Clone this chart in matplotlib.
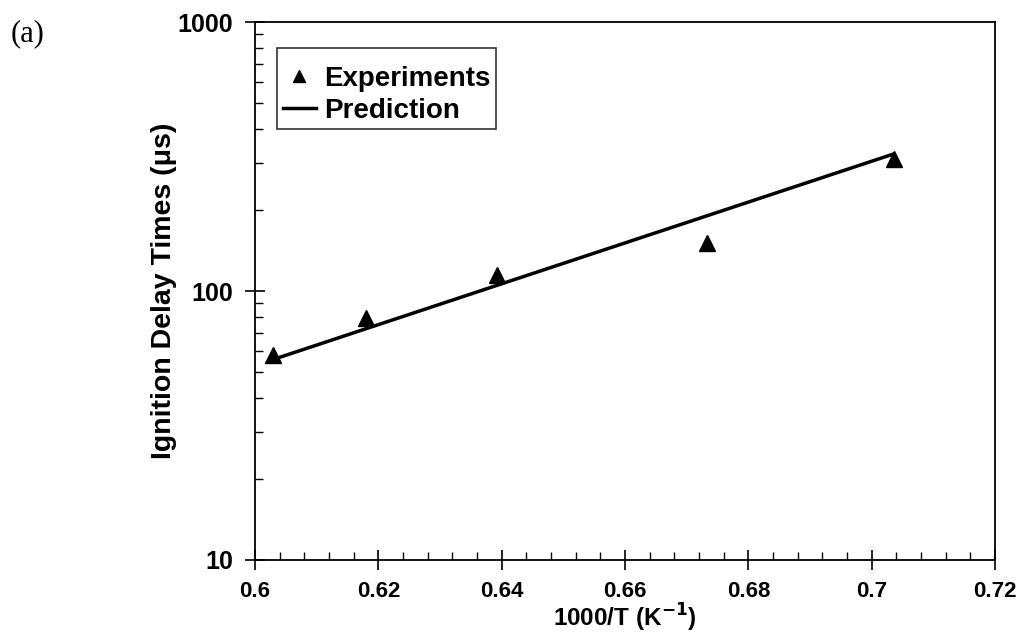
import matplotlib.pyplot as plt
from matplotlib.ticker import MultipleLocator, LogLocator, NullFormatter, FixedFormatter, FixedLocator

plt.rcParams['font.family'] = ['Liberation Sans', 'DejaVu Sans']

# experimental ignition delay data
exp_x = [0.6029, 0.6180, 0.6392, 0.6733, 0.7036]
exp_y = [57.8, 79.4, 114.7, 150.8, 310]

# model prediction (straight line in log space)
pred_x = [0.6037, 0.7035]
pred_y = [56.4, 323]

x_ticks = [0.6, 0.62, 0.64, 0.66, 0.68, 0.7, 0.72]
x_labels = ['0.6', '0.62', '0.64', '0.66', '0.68', '0.7', '0.72']
y_ticks = [10, 100, 1000]
y_labels = ['10', '100', '1000']

fig = plt.figure(figsize=(10.21, 6.32), dpi=100)
ax = fig.add_axes([0.2498, 0.114, 0.7247, 0.851])

ax.plot(pred_x, pred_y, color='black', lw=2.5, label='Prediction')
ax.plot(exp_x, exp_y, ls='none', marker='^', ms=11, color='black', label='Experiments')

ax.set_yscale('log')
ax.set_xlim(0.6, 0.72)
ax.set_ylim(10, 1000)

ax.xaxis.set_major_locator(FixedLocator(x_ticks))
ax.xaxis.set_major_formatter(FixedFormatter(x_labels))
ax.xaxis.set_minor_locator(MultipleLocator(0.004))
ax.yaxis.set_major_locator(FixedLocator(y_ticks))
ax.yaxis.set_major_formatter(FixedFormatter(y_labels))
ax.yaxis.set_minor_locator(LogLocator(base=10, subs=range(2, 10)))
ax.yaxis.set_minor_formatter(NullFormatter())

ax.tick_params(which='major', direction='inout', length=14, width=1.2)
ax.tick_params(which='minor', direction='in', length=6, width=1)
ax.tick_params(axis='x', which='major', labelsize=16, pad=8)
ax.tick_params(axis='y', which='major', labelsize=18, pad=9)
for lab in ax.get_xticklabels() + ax.get_yticklabels():
    lab.set_fontweight('bold')
for s in ax.spines.values():
    s.set_linewidth(1.3)

ax.set_xlabel('1000/T (K$^{\\mathbf{-1}}$)', fontsize=17.5, fontweight='bold')
ax.xaxis.set_label_coords(0.5, -0.077)
ax.set_ylabel('Ignition Delay Times (μs)', fontsize=20.5, fontweight='bold', labelpad=0)

handles, labels = ax.get_legend_handles_labels()
leg = ax.legend(handles[::-1], labels[::-1], loc='upper left', bbox_to_anchor=(0.0297, 0.952),
                borderaxespad=0, frameon=True, fancybox=False, edgecolor='black',
                handlelength=1.2, handletextpad=0.3, borderpad=0.2, labelspacing=0.2,
                markerscale=0.85, prop={'size': 20, 'weight': 'bold'},
                title=' ', title_fontsize=6)
leg.get_frame().set_linewidth(1.2)

fig.text(0.010, 0.935, '(a)', fontsize=22, family=['Liberation Serif', 'DejaVu Serif'])

fig.savefig('out.png', dpi=100)
